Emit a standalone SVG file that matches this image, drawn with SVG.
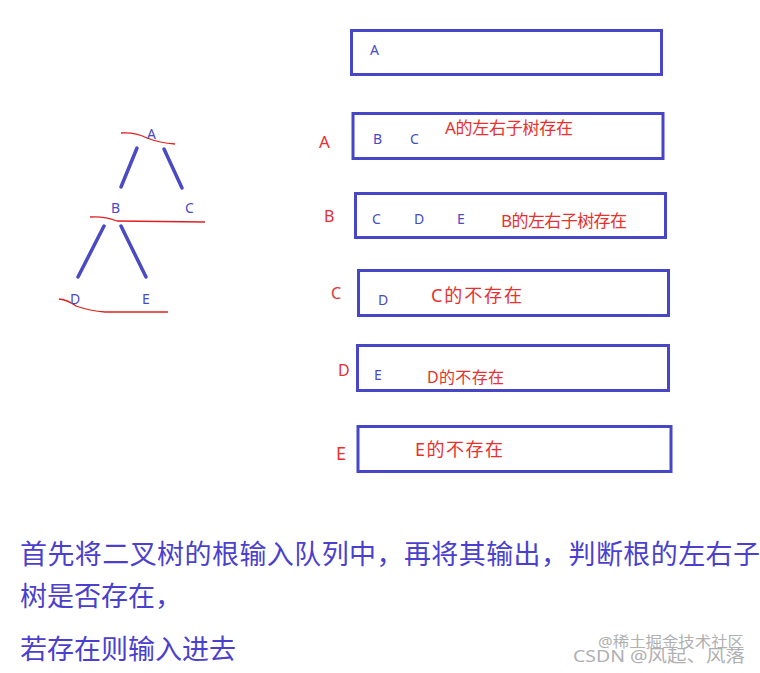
<svg xmlns="http://www.w3.org/2000/svg" width="760" height="673" viewBox="0 0 760 673">
<style>
text{font-family:"Noto Sans","Noto Sans CJK SC",sans-serif}
.box{fill:#fff;stroke:#4646c6;stroke-width:3}
.bl{fill:#4a4ac4;font-size:14px}
.rd{fill:#e8302f}
.edge{stroke:#4a4ac4;stroke-width:3.5;stroke-linecap:round;fill:none}
.ul{stroke:#e0201f;stroke-width:1.3;fill:none}
.body{fill:#4b3fcf;font-size:27px}
.wm{fill:#b0b0b0}
</style>
<rect width="760" height="673" fill="#fff"/>
<g id="connectors">
<line class="edge" x1="137" y1="148" x2="121" y2="187"/>
<line class="edge" x1="164" y1="149" x2="182" y2="188"/>
<line class="edge" x1="104" y1="226" x2="78" y2="277"/>
<line class="edge" x1="121" y1="226" x2="146" y2="277"/>
<path class="ul" d="M121,133 Q135,132 147,138 Q160,143 175,144"/>
<path class="ul" d="M90,217 Q104,216 117,221 L205,222"/>
<path class="ul" d="M59,299 Q68,300 76,306 Q90,311 105,312 L168,312"/>
</g>
<g id="node-A"><text class="bl" x="147" y="139">A</text></g>
<g id="node-B"><text class="bl" x="111" y="213">B</text></g>
<g id="node-C"><text class="bl" x="185" y="213">C</text></g>
<g id="node-D"><text class="bl" x="70" y="304">D</text></g>
<g id="node-E"><text class="bl" x="142" y="304">E</text></g>
<g id="queue1">
<rect class="box" x="351.5" y="30.5" width="310" height="44"/>
<text class="bl" x="370" y="55">A</text>
</g>
<g id="queue2">
<text class="rd" x="319" y="148" font-size="17">A</text>
<rect class="box" x="353" y="113.5" width="310" height="45"/>
<text class="bl" x="373" y="144">B</text>
<text class="bl" x="410" y="144">C</text>
<text class="rd" x="445" y="134" font-size="17" textLength="128" lengthAdjust="spacing">A的左右子树存在</text>
</g>
<g id="queue3">
<text class="rd" x="324" y="222" font-size="16">B</text>
<rect class="box" x="355.5" y="193.5" width="310" height="44"/>
<text class="bl" x="372" y="224">C</text>
<text class="bl" x="414" y="224">D</text>
<text class="bl" x="457" y="224">E</text>
<text class="rd" x="501" y="227" font-size="17" textLength="126" lengthAdjust="spacing">B的左右子树存在</text>
</g>
<g id="queue4">
<text class="rd" x="331" y="299" font-size="16">C</text>
<rect class="box" x="358.5" y="270.5" width="310" height="45"/>
<text class="bl" x="378" y="305">D</text>
<text class="rd" x="431" y="302" font-size="18" textLength="91" lengthAdjust="spacing">C的不存在</text>
</g>
<g id="queue5">
<text class="rd" x="338" y="376" font-size="16">D</text>
<rect class="box" x="357.5" y="345.5" width="311" height="45"/>
<text class="bl" x="374" y="380">E</text>
<text class="rd" x="427" y="383" font-size="16" textLength="77" lengthAdjust="spacing">D的不存在</text>
</g>
<g id="queue6">
<text class="rd" x="336" y="460" font-size="18">E</text>
<rect class="box" x="358" y="426.5" width="313" height="45"/>
<text class="rd" x="415" y="456" font-size="18" textLength="88" lengthAdjust="spacing">E的不存在</text>
</g>
<g id="caption">
<text class="body" x="20" y="564" textLength="740" lengthAdjust="spacing">首先将二叉树的根输入队列中，再将其输出，判断根的左右子</text>
<text class="body" x="20" y="606">树是否存在，</text>
<text class="body" x="20" y="659">若存在则输入进去</text>
</g>
<g id="watermark">
<text class="wm" x="598" y="647" font-size="15" textLength="146" lengthAdjust="spacingAndGlyphs">@稀土掘金技术社区</text>
<text class="wm" x="573" y="662" font-size="17" textLength="172" lengthAdjust="spacingAndGlyphs">CSDN @风起、风落</text>
</g>
</svg>
